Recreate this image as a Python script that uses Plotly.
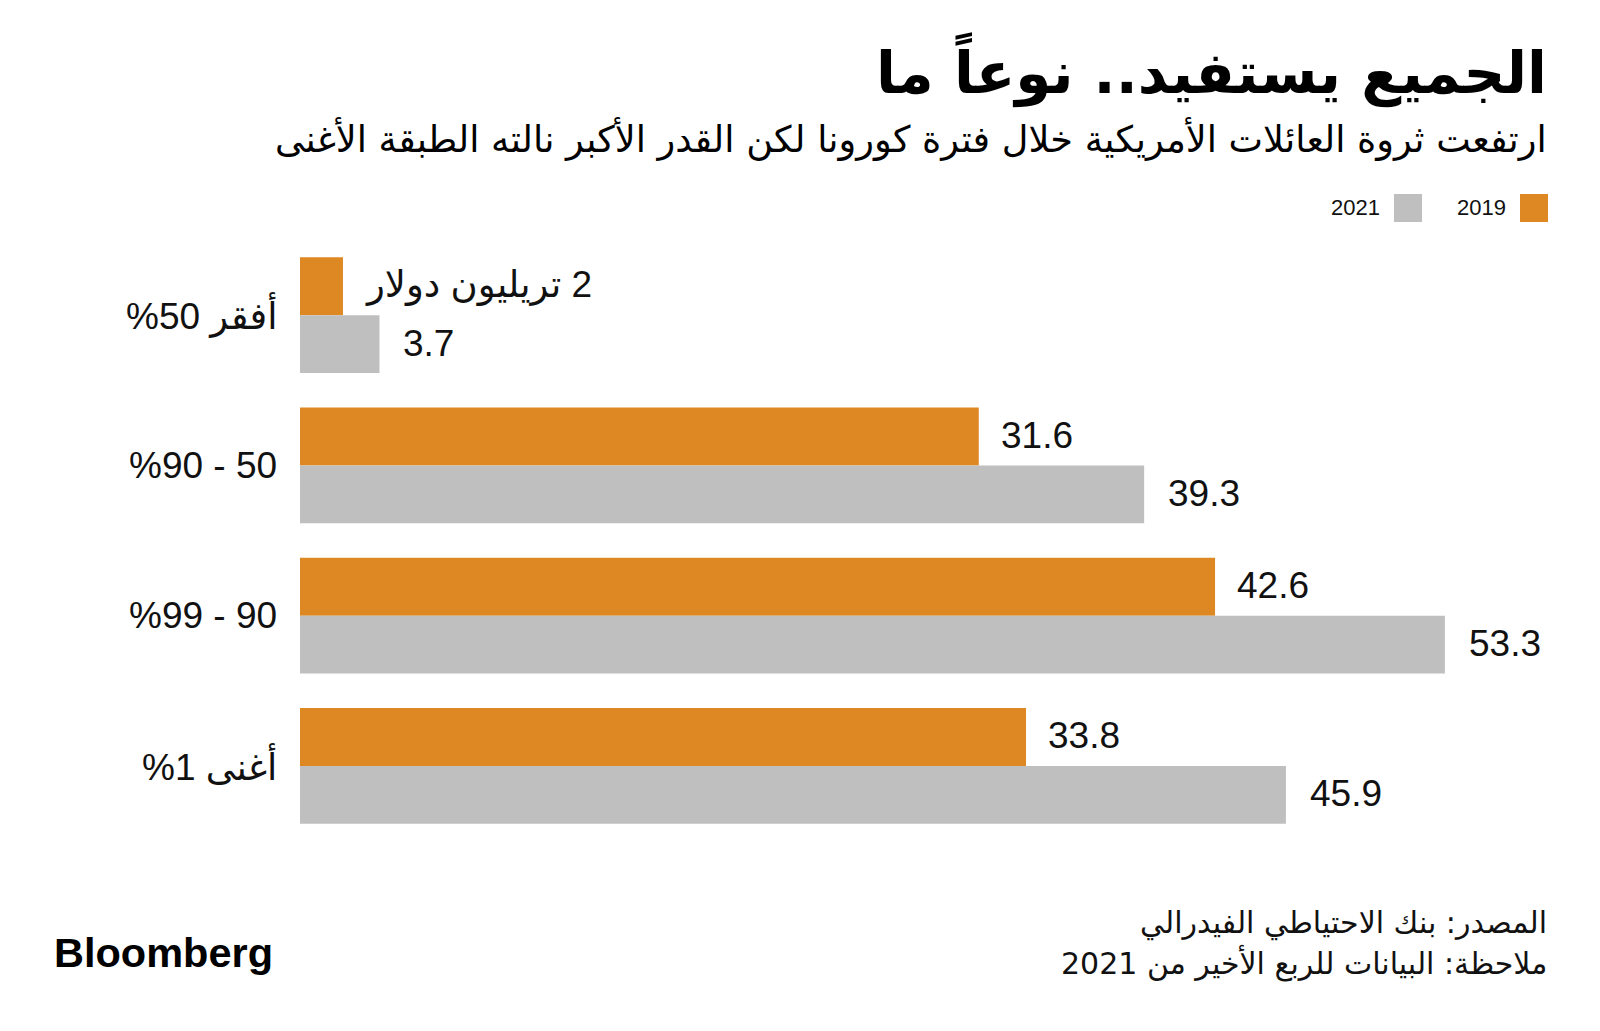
import plotly.graph_objects as go

categories = ["%50 أفقر", "%90 - 50", "%99 - 90", "%1 أغنى"]
years = ["2019", "2021"]
values_2019 = [2, 31.6, 42.6, 33.8]
values_2021 = [3.7, 39.3, 53.3, 45.9]
label_2019 = ["تريليون دولار\u200E 2", "31.6", "42.6", "33.8"]
label_2021 = ["3.7", "39.3", "53.3", "45.9"]

title = "الجميع يستفيد.. نوعاً ما"
subtitle = "ارتفعت ثروة العائلات الأمريكية خلال فترة كورونا لكن القدر الأكبر نالته الطبقة الأغنى"
source = "المصدر: بنك الاحتياطي الفيدرالي"
note = "ملاحظة: البيانات للربع الأخير من 2021"

ORANGE = "#DE8823"
GRAY = "#BFBFBF"
W, H = 1600, 1031
L, R, T, B = 300, 40, 240, 190
PW, PH = W - L - R, H - T - B

def px(x):
    return (x - L) / PW

def py(y):
    return (H - B - y) / PH

NUM_FONT = "Liberation Sans, Arial, DejaVu Sans, sans-serif"
AR_FONT = "DejaVu Sans, sans-serif"

fig = go.Figure()
fig.add_trace(go.Bar(y=categories, x=values_2019, orientation="h", name=years[0],
                     marker=dict(color=ORANGE, line=dict(width=0)), showlegend=False))
fig.add_trace(go.Bar(y=categories, x=values_2021, orientation="h", name=years[1],
                     marker=dict(color=GRAY, line=dict(width=0)), showlegend=False))

ann = []
for c, v, t in zip(categories, values_2019, label_2019):
    ann.append(dict(x=v, y=c, xref="x", yref="y", text=t, showarrow=False, xanchor="left",
                    yanchor="middle", xshift=20, yshift=30,
                    font=dict(family=NUM_FONT, size=37, color="#111111")))
for c, v, t in zip(categories, values_2021, label_2021):
    ann.append(dict(x=v, y=c, xref="x", yref="y", text=t, showarrow=False, xanchor="left",
                    yanchor="middle", xshift=22, yshift=-28,
                    font=dict(family=NUM_FONT, size=37, color="#111111")))
for c in categories:
    ann.append(dict(x=px(279), y=c, xref="paper", yref="y", text=c, showarrow=False,
                    xanchor="right", yanchor="middle",
                    font=dict(family=NUM_FONT, size=37, color="#111111")))

ann.append(dict(x=px(1549), y=py(70), xref="paper", yref="paper", text="<b>" + title + "</b>",
                showarrow=False, xanchor="right", yanchor="middle",
                font=dict(family=AR_FONT, size=58, color="#000000")))
ann.append(dict(x=px(1549), y=py(139), xref="paper", yref="paper", text=subtitle,
                showarrow=False, xanchor="right", yanchor="middle",
                font=dict(family=AR_FONT, size=36.7, color="#000000")))
ann.append(dict(x=px(1549), y=py(923), xref="paper", yref="paper", text=source,
                showarrow=False, xanchor="right", yanchor="middle",
                font=dict(family=AR_FONT, size=30, color="#111111")))
ann.append(dict(x=px(1549), y=py(963), xref="paper", yref="paper", text=note,
                showarrow=False, xanchor="right", yanchor="middle",
                font=dict(family=AR_FONT, size=30, color="#111111")))
ann.append(dict(x=px(52), y=py(952), xref="paper", yref="paper", text="<b>Bloomberg</b>",
                showarrow=False, xanchor="left", yanchor="middle",
                font=dict(family="Liberation Sans, Arial, sans-serif", size=41.5, color="#000000")))

# legend (manual, right-to-left)
shapes = []
leg = [(years[0], ORANGE, 1520), (years[1], GRAY, 1394)]
for name, col, x0 in leg:
    shapes.append(dict(type="rect", xref="paper", yref="paper", x0=px(x0), x1=px(x0 + 28),
                       y0=py(222), y1=py(194), fillcolor=col, line=dict(width=0)))
    ann.append(dict(x=px(x0 - 12), y=py(207), xref="paper", yref="paper", text=name,
                    showarrow=False, xanchor="right", yanchor="middle",
                    font=dict(family=NUM_FONT, size=22, color="#111111")))

fig.update_layout(
    width=W, height=H,
    margin=dict(l=L, r=R, t=T, b=B),
    paper_bgcolor="white", plot_bgcolor="white",
    barmode="group", bargap=0.228, bargroupgap=0,
    xaxis=dict(range=[0, PW / 21.48], visible=False, fixedrange=True),
    yaxis=dict(range=[3.5, -0.5], showticklabels=False, showgrid=False, zeroline=False,
               showline=False, ticks="", fixedrange=True),
    annotations=ann, shapes=shapes,
)

fig.write_html("out.html", config={"displayModeBar": False})
